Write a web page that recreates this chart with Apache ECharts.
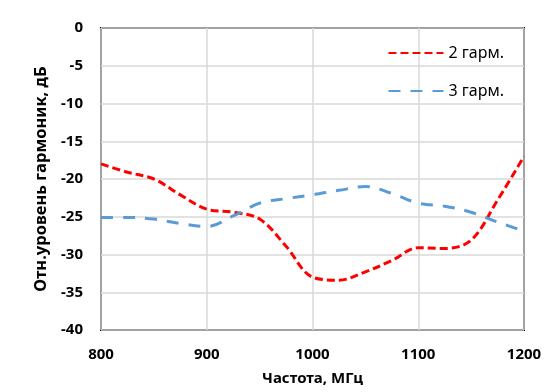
<!DOCTYPE html>
<html><head><meta charset="utf-8">
<script src="https://cdn.jsdelivr.net/npm/echarts@6/dist/echarts.min.js"></script>
<style>html,body{margin:0;padding:0;background:#fff}#c{width:558px;height:392px}</style>
</head><body><div id="c"></div>
<script>
const freq = [800,825,850,875,900,925,950,975,1000,1025,1050,1075,1100,1125,1150,1175,1200];
const harm2 = [-18,-19.1,-20,-22.1,-24,-24.4,-25.3,-28.9,-33,-33.4,-32.3,-30.8,-29.1,-29.2,-28.1,-22.8,-17];
const harm3 = [-25.1,-25.1,-25.3,-25.9,-26.3,-24.9,-23.2,-22.6,-22.1,-21.5,-21,-21.9,-23.2,-23.6,-24.4,-25.7,-26.9];
const yTicks = {min:-40, max:0, step:5};
const xTicks = {min:800, max:1200, step:100};
const names = ['2 гарм.','3 гарм.'];

const font = 'Noto Sans';
const chart = echarts.init(document.getElementById('c'));
chart.setOption({
  animation:false,
  grid:{left:101,right:34,top:28,bottom:62,show:true,borderColor:'#000',borderWidth:2,backgroundColor:'transparent',outerBoundsMode:'none',containLabel:false},
  legend:{
    orient:'vertical', right:49, top:40, itemGap:22, itemWidth:55, itemHeight:10,
    itemStyle:{color:'transparent',borderWidth:0,opacity:0},
    textStyle:{fontFamily:font,fontSize:16,color:'#000'},
    data:names
  },
  xAxis:{type:'value',min:xTicks.min,max:xTicks.max,interval:xTicks.step,
    name:'Частота, МГц',nameLocation:'middle',nameGap:41,
    nameTextStyle:{fontFamily:font,fontSize:15,fontWeight:'bold',color:'#000'},
    axisLine:{show:false},axisTick:{show:false},
    axisLabel:{fontFamily:font,fontSize:15,fontWeight:'bold',color:'#000',margin:17,formatter:v=>String(v)},
    splitLine:{show:true,lineStyle:{color:'#d9d9d9',width:1.5}}},
  yAxis:{type:'value',min:yTicks.min,max:yTicks.max,interval:yTicks.step,
    name:'Отн.уровень гармоник, дБ',nameLocation:'middle',nameGap:51,
    nameTextStyle:{fontFamily:font,fontSize:16.5,fontWeight:'bold',color:'#000'},
    axisLine:{show:false},axisTick:{show:false},
    axisLabel:{fontFamily:font,fontSize:15,fontWeight:'bold',color:'#000',margin:18},
    splitLine:{show:true,lineStyle:{color:'#d9d9d9',width:1.5}}},
  series:[
    {name:names[0],type:'line',smooth:0.35,showSymbol:false,symbol:'none',
     data:freq.map((f,i)=>[f,harm2[i]]),
     lineStyle:{color:'#ff0000',width:3,type:[8,4]},itemStyle:{color:'#ff0000'}},
    {name:names[1],type:'line',smooth:0.35,showSymbol:false,symbol:'none',
     data:freq.map((f,i)=>[f,harm3[i]]),
     lineStyle:{color:'#5b9bd5',width:3,type:[12,10]},itemStyle:{color:'#5b9bd5'}}
  ]
});
</script></body></html>
